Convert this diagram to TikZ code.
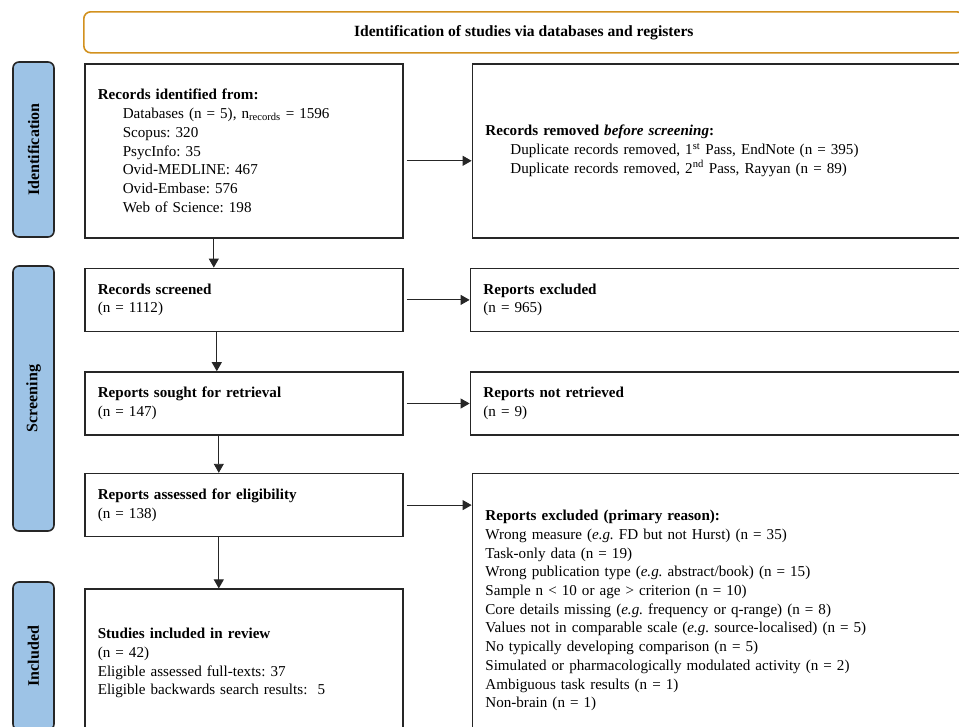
\documentclass[tikz,border=0pt]{standalone}
\usepackage{fontspec}
\setmainfont{Liberation Serif}
\frenchspacing
\usetikzlibrary{positioning,arrows.meta}
\definecolor{bannerorange}{RGB}{210,145,30}
\definecolor{phaseblue}{RGB}{157,195,230}
\newcommand{\indnt}{\hspace*{25pt}}
\tikzset{
  flowbox/.style={draw=black!85, line width=1.6pt, align=left, inner xsep=13pt, inner ysep=0pt,
    font=\fontsize{15.1}{18.7}\selectfont},
  leftbox/.style={flowbox, text width=292pt},
  rightbox/.style={flowbox, text width=494pt},
  phase/.style={draw=black!85, line width=1.6pt, fill=phaseblue, rounded corners=6pt, rotate=90,
    minimum height=41pt, font=\fontsize{16}{18}\selectfont\bfseries},
  flow/.style={-{Triangle[length=9pt,width=10pt]}, line width=0.9pt, black!85},
}
\begin{document}
\begin{tikzpicture}[x=1pt,y=-1pt]
\useasboundingbox (0,0) rectangle (959,726);
\node[draw=bannerorange, line width=1.6pt, rounded corners=7pt, anchor=north west,
  minimum width=880pt, minimum height=41pt, font=\fontsize{15.6}{18}\selectfont\bfseries]
  (banner) at (83,11) {Identification of studies via databases and registers};

% phases
\node[phase, minimum width=175pt] (phid) at (33.5,149.5) {Identification};
\node[phase, minimum width=265pt] (phscr) at (33.5,398.5) {Screening};
\node[phase, minimum width=148pt] (phinc) at (33.5,656) {Included};

% main column
\node[leftbox, minimum height=174pt, anchor=north west] (ident) at (84,63)
  {\textbf{Records identified from:}\\
   \indnt Databases (n = 5), n\textsubscript{records} = 1596\\
   \indnt Scopus: 320\\
   \indnt PsycInfo: 35\\
   \indnt Ovid-MEDLINE: 467\\
   \indnt Ovid-Embase: 576\\
   \indnt Web of Science: 198};
\node[leftbox, minimum height=63pt, below=29pt of ident] (screen)
  {\textbf{Records screened}\\(n = 1112)};
\node[leftbox, minimum height=63pt, below=39pt of screen] (sought)
  {\textbf{Reports sought for retrieval}\\(n = 147)};
\node[leftbox, minimum height=63pt, below=37pt of sought] (assess)
  {\textbf{Reports assessed for eligibility}\\(n = 138)};
\node[leftbox, minimum height=148pt, below=51pt of assess] (incl)
  {\textbf{Studies included in review}\\
   (n = 42)\\
   Eligible assessed full-texts: 37\\
   Eligible backwards search results:\ \ 5};

% exclusions
\node[rightbox, minimum height=174pt, right=68pt of ident] (removed)
  {\textbf{Records removed \textit{before screening}:}\\
   \indnt Duplicate records removed, 1\textsuperscript{st} Pass, EndNote (n = 395)\\
   \indnt Duplicate records removed, 2\textsuperscript{nd} Pass, Rayyan (n = 89)};
\node[rightbox, minimum height=63pt, right=66pt of screen] (excl)
  {\textbf{Reports excluded}\\(n = 965)};
\node[rightbox, minimum height=63pt, right=66pt of sought] (notret)
  {\textbf{Reports not retrieved}\\(n = 9)};
\node[rightbox, minimum height=274pt, right=68pt of assess.north east, anchor=north west] (reasons)
  {\textbf{Reports excluded (primary reason):}\\
   Wrong measure (\textit{e.g.} FD but not Hurst) (n = 35)\\
   Task-only data (n = 19)\\
   Wrong publication type (\textit{e.g.} abstract/book) (n = 15)\\
   Sample n < 10 or age > criterion (n = 10)\\
   Core details missing (\textit{e.g.} frequency or q-range) (n = 8)\\
   Values not in comparable scale (\textit{e.g.} source-localised) (n = 5)\\
   No typically developing comparison (n = 5)\\
   Simulated or pharmacologically modulated activity (n = 2)\\
   Ambiguous task results (n = 1)\\
   Non-brain (n = 1)};

% arrows
\draw[flow] ([xshift=-30pt]ident.south) -- ([xshift=-30pt]ident.south |- screen.north);
\draw[flow] ([xshift=-27pt]screen.south) -- ([xshift=-27pt]screen.south |- sought.north);
\draw[flow] ([xshift=-25pt]sought.south) -- ([xshift=-25pt]sought.south |- assess.north);
\draw[flow] ([xshift=-25pt]assess.south) -- ([xshift=-25pt]assess.south |- incl.north);
\draw[flow, shorten <=3pt] ([yshift=-10pt]ident.east) -- ([yshift=-10pt]removed.west);
\draw[flow, shorten <=3pt] (screen) -- (excl);
\draw[flow, shorten <=3pt] (sought) -- (notret);
\draw[flow, shorten <=3pt] (assess.east) -- (assess.east -| reasons.west);
\end{tikzpicture}
\end{document}
